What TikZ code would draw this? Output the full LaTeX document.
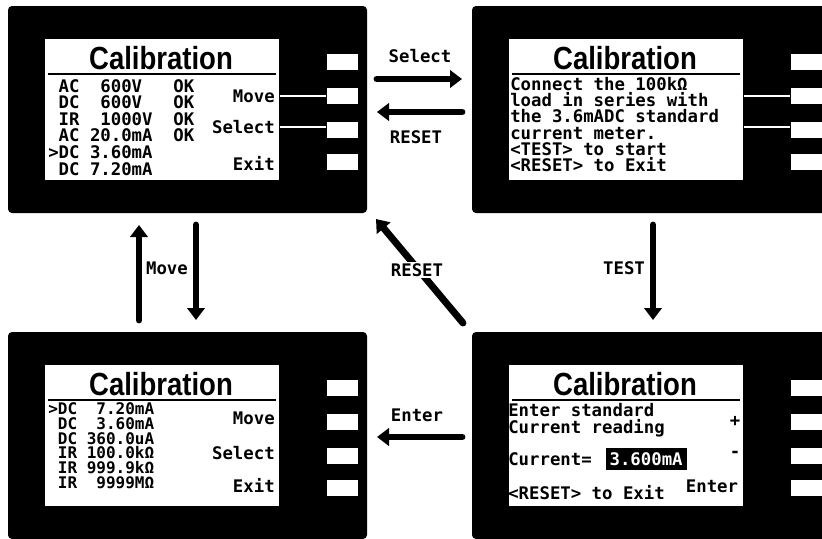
\documentclass[tikz,border=0pt]{standalone}
\usepackage{fontspec}
\usepackage{graphicx}
\usepackage{tikz}
\usetikzlibrary{arrows.meta,positioning}
\newfontfamily\lcdfont{DejaVu Sans Mono}
\newfontfamily\headfont{Liberation Sans}
\newcommand{\pnW}{359}
\newcommand{\pnH}{207}
\tikzset{
  pbody/.style   ={fill=black,rounded corners=3pt},
  lcdscr/.style  ={fill=white,inner sep=0pt,anchor=north west,minimum width=175.5pt,minimum height=105.75pt},
  keybtn/.style  ={fill=white,inner sep=0pt,minimum width=23.25pt,minimum height=12pt},
  keyline/.style ={draw=white,line width=0.8pt},
  hrule/.style   ={line width=1.5pt},
  ttl/.style     ={font=\headfont\bfseries\fontsize{24}{24}\selectfont,inner sep=0pt},
  lcdtxt/.style  ={font=\lcdfont\bfseries\fontsize{13}{12.45}\selectfont,inner sep=0pt,align=left,anchor=north west},
  sidelab/.style ={font=\lcdfont\bfseries\fontsize{13}{13}\selectfont,inner sep=0pt,anchor=east},
  flowarr/.style ={line width=5.2pt,line cap=round,-{Triangle[length=9pt,width=13pt]}},
  flowlab/.style ={font=\lcdfont\bfseries\fontsize{13}{13}\selectfont,inner sep=1pt},
}
\newcommand{\lcdpanel}[3]{%
  \fill[pbody] (#2,#3) rectangle ++(\pnW,\pnH);
  \node[lcdscr] (#1scr) at (#2+37,#3+33) {};
  \node[ttl] (#1ttl) at (#2+153,#3+52) {\scalebox{0.86}[1]{Calibration}};
  \draw[hrule] (#2+40,#3+68) -- ++(228,0);
  \foreach \k/\by in {1/56,2/90,3/124,4/156}
    \node[keybtn] (#1k\k) at (#2+334,#3+\by) {};
}

\begin{document}
\begin{tikzpicture}[x=0.75pt,y=-0.75pt]
  \useasboundingbox (0,0) rectangle (822,539);
  \clip (0,0) rectangle (822,539);
  \lcdpanel{tl}{8}{6}
  \lcdpanel{tr}{472}{6}
  \lcdpanel{bl}{8}{332}
  \lcdpanel{br}{472}{332}
  % menu screen, top left
  \node[lcdtxt] (tlList) at (48,79)
    {~AC~~600V~~~OK\\~DC~~600V~~~OK\\~IR~~1000V~~OK\\~AC~20.0mA~~OK\\>DC~3.60mA\\~DC~7.20mA};
  \node[sidelab] (tlMove) at (275,96) {Move};
  \node[sidelab] (tlSel) at (275,127) {Select};
  \node[sidelab] (tlExit) at (275,163) {Exit};
  \draw[keyline] (tlscr.east |- tlk2) -- (tlk2.west);
  \draw[keyline] (tlscr.east |- tlSel) -- (tlk3.west |- tlSel);
  % instruction screen, top right
  \node[lcdtxt,font=\lcdfont\bfseries\fontsize{13}{12.2}\selectfont] (trMsg) at (510,77)
    {Connect~the~100kΩ\\load~in~series~with\\the~3.6mADC~standard\\current~meter.\\<TEST>~to~start\\<RESET>~to~Exit};
  \draw[keyline] (trscr.east |- trk2) -- (trk2.west);
  \draw[keyline] (trscr.east |- tlSel) -- (trk3.west |- tlSel);
  % menu screen, bottom left
  \node[lcdtxt,font=\lcdfont\bfseries\fontsize{12}{11.2}\selectfont] (blList) at (48,402)
    {>DC~~7.20mA\\~DC~~3.60mA\\~DC~360.0uA\\~IR~100.0kΩ\\~IR~999.9kΩ\\~IR~~9999MΩ};
  \node[sidelab] (blMove) at (275,418) {Move};
  \node[sidelab] (blSel) at (275,453) {Select};
  \node[sidelab] (blExit) at (275,485) {Exit};
  % input screen, bottom right
  \node[lcdtxt] (brMsg) at (508,403) {Enter~standard\\Current~reading};
  \node[sidelab,anchor=center] (brPlus) at (735,421) {+};
  \node[sidelab,anchor=center] (brMinus) at (735,454) {-};
  \node[sidelab,anchor=west] (brCur) at (508,459) {Current=};
  \node[flowlab,right=10pt of brCur,fill=black,text=white,inner xsep=3pt,minimum height=16pt] (brVal) {3.600mA};
  \node[sidelab,anchor=west] (brExit) at (508,493) {<RESET>~to~Exit};
  \node[sidelab,anchor=center] (brEnter) at (712,486) {Enter};
  % transitions
  \coordinate (selS) at (377,79);   \coordinate (selE) at (462,79);
  \coordinate (rstS) at (462,112);  \coordinate (rstE) at (377,112);
  \coordinate (upS) at (139,320);   \coordinate (upE) at (139,225);
  \coordinate (dnS) at (196,225);   \coordinate (dnE) at (196,320);
  \coordinate (diaS) at (463,323);  \coordinate (diaE) at (376,219);
  \coordinate (tstS) at (653,225);  \coordinate (tstE) at (653,320);
  \coordinate (entS) at (462,437);  \coordinate (entE) at (377,437);
  \draw[flowarr] (selS) -- (selE);
  \draw[flowarr] (rstS) -- (rstE);
  \draw[flowarr] (upS) -- (upE);
  \draw[flowarr] (dnS) -- (dnE);
  \draw[flowarr] (diaS) -- (diaE);
  \draw[flowarr] (tstS) -- (tstE);
  \draw[flowarr] (entS) -- (entE);
  \node[flowlab] (selLab) at (420,56) {Select};
  \node[flowlab] (rstLab) at (416,137) {RESET};
  \node[flowlab] (mvLab) at (167,268) {Move};
  \node[flowlab,fill=white] (diaLab) at (417,270) {RESET};
  \node[flowlab] (tstLab) at (624,268) {TEST};
  \node[flowlab] (entLab) at (417,415) {Enter};
\end{tikzpicture}
\end{document}
